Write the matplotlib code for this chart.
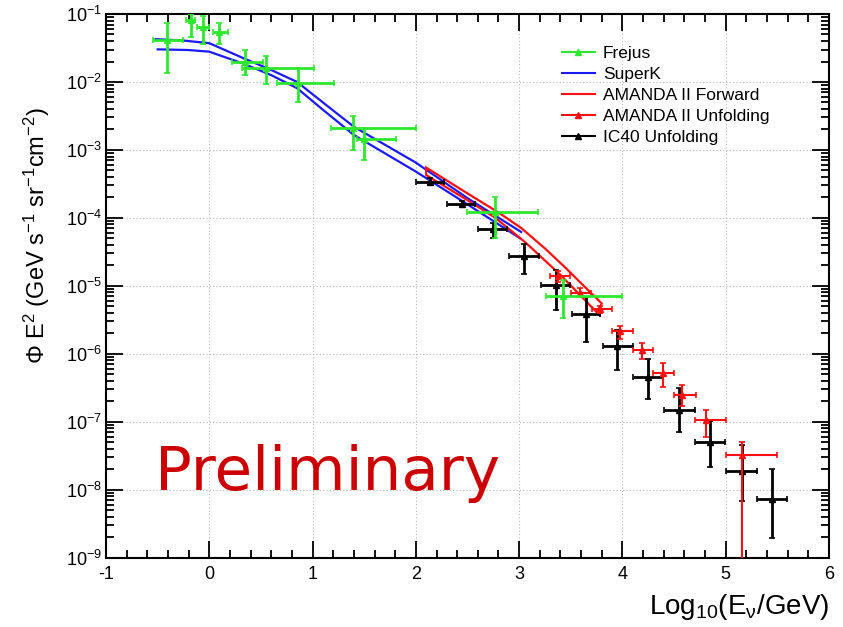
import numpy as np
import matplotlib
matplotlib.use('Agg')
import matplotlib.pyplot as plt
from matplotlib.lines import Line2D
from matplotlib.ticker import MultipleLocator, LogLocator, NullFormatter

plt.rcParams['font.family'] = ['Liberation Sans', 'DejaVu Sans']
plt.rcParams['mathtext.fontset'] = 'custom'
plt.rcParams['mathtext.rm'] = 'Liberation Sans'
plt.rcParams['mathtext.it'] = 'Liberation Sans:italic'
plt.rcParams['axes.unicode_minus'] = False

# Frejus points (log10 E, flux), with bin edges and error bounds
frejus_x = np.array([-0.41, -0.18, -0.06, 0.09, 0.35, 0.55, 0.86, 1.39, 1.50, 2.77, 3.42])
frejus_y = np.array([4.2e-2, 8.2e-2, 6.4e-2, 5.5e-2, 2.0e-2, 1.6e-2, 9.8e-3, 2.1e-3, 1.43e-3, 1.23e-4, 7.2e-6])
frejus_ylo = np.array([1.34e-2, 4.6e-2, 3.6e-2, 3.6e-2, 1.26e-2, 9.3e-3, 5.1e-3, 1.0e-3, 7.2e-4, 5.1e-5, 3.4e-6])
frejus_yhi = np.array([7.4e-2, 1.0e-1, 9.3e-2, 7.4e-2, 3.0e-2, 2.4e-2, 1.58e-2, 3.2e-3, 2.1e-3, 2.0e-4, 1.2e-5])
frejus_xlo = np.array([-0.545, -0.23, -0.12, 0.036, 0.22, 0.316, 0.655, 1.18, 1.43, 2.50, 3.26])
frejus_xhi = np.array([-0.25, -0.135, 0.0, 0.177, 0.52, 1.01, 1.21, 2.0, 1.81, 3.18, 4.0])

# IC40 unfolding
ic40_x = np.array([2.14, 2.45, 2.75, 3.05, 3.36, 3.65, 3.95, 4.25, 4.55, 4.845, 5.16, 5.45])
ic40_y = np.array([3.4e-4, 1.62e-4, 6.8e-5, 2.75e-5, 1.02e-5, 3.8e-6, 1.3e-6, 4.5e-7, 1.48e-7, 5.0e-8, 1.86e-8, 7.2e-9])
ic40_ylo = np.array([3.0e-4, 1.48e-4, 5.1e-5, 1.48e-5, 4.4e-6, 1.48e-6, 5.75e-7, 2.14e-7, 7.1e-8, 2.14e-8, 6.8e-9, 1.95e-9])
ic40_yhi = np.array([3.8e-4, 1.78e-4, 8.3e-5, 4.1e-5, 1.7e-5, 6.9e-6, 2.24e-6, 8.5e-7, 3.1e-7, 1.02e-7, 4.5e-8, 2.0e-8])
ic40_xlo = np.array([2.0, 2.3, 2.6, 2.9, 3.21, 3.51, 3.81, 4.10, 4.40, 4.70, 5.0, 5.30])
ic40_xhi = np.array([2.27, 2.57, 2.88, 3.19, 3.49, 3.78, 4.10, 4.39, 4.70, 4.99, 5.30, 5.59])

# AMANDA II unfolding
amu_x = np.array([3.38, 3.59, 3.78, 3.98, 4.19, 4.39, 4.58, 4.81, 5.155])
amu_y = np.array([1.38e-5, 7.9e-6, 4.5e-6, 2.2e-6, 1.12e-6, 5.2e-7, 2.5e-7, 1.08e-7, 3.2e-8])
amu_ylo = np.array([1.15e-5, 6.8e-6, 4.0e-6, 1.66e-6, 8.5e-7, 3.2e-7, 1.7e-7, 5.96e-8, 1e-12])
amu_yhi = np.array([1.66e-5, 9.3e-6, 5.0e-6, 2.6e-6, 1.45e-6, 7.3e-7, 3.5e-7, 1.5e-7, 5.0e-8])
amu_xlo = np.array([3.30, 3.50, 3.71, 3.895, 4.10, 4.30, 4.50, 4.70, 5.0])
amu_xhi = np.array([3.49, 3.70, 3.90, 4.10, 4.30, 4.50, 4.71, 5.0, 5.50])

# SuperK band edges
sk_up_x = [-0.52, -0.25, 0.0, 0.33, 0.6, 0.85, 1.1, 1.4, 2.0, 2.5, 3.02]
sk_up_y = [0.0427, 0.0407, 0.0372, 0.0224, 0.0150, 0.0100, 5.0e-3, 2.19e-3, 6.5e-4, 1.95e-4, 6.2e-5]
sk_lo_x = [-0.5, -0.2, 0.0, 0.33, 0.6, 0.85, 1.1, 1.4, 2.0, 2.5, 3.01]
sk_lo_y = [0.0302, 0.0295, 0.0279, 0.0186, 0.0126, 8.1e-3, 3.9e-3, 1.66e-3, 4.8e-4, 1.58e-4, 5.0e-5]

# AMANDA II forward folding band (closed outline)
amf_up_x = [2.10, 2.5, 2.8, 3.02, 3.25, 3.44, 3.62, 3.80]
amf_up_y = [5.5e-4, 2.29e-4, 1.2e-4, 7.1e-5, 3.55e-5, 1.9e-5, 1.02e-5, 5.5e-6]
amf_lo_x = [2.10, 2.5, 2.77, 3.06, 3.4, 3.75]
amf_lo_y = [4.27e-4, 1.82e-4, 1.0e-4, 4.37e-5, 1.45e-5, 4.1e-6]

green = '#2ee82e'
blue = '#1a1aff'
red = '#ff1010'

fig = plt.figure(figsize=(8.43, 6.27), dpi=100)
ax = fig.add_axes([106/843, 1 - 557.7/627, (829 - 106)/843, (557.7 - 14)/627])
ax.set_yscale('log')
ax.set_xlim(-1, 6)
ax.set_ylim(1e-9, 1e-1)

ax.grid(True, which='major', color='#b8b8b8', linestyle=(0, (1, 2)), linewidth=0.8)

# bands
ax.plot(sk_up_x, sk_up_y, color=blue, lw=1.6, zorder=2)
ax.plot(sk_lo_x, sk_lo_y, color=blue, lw=1.6, zorder=2)
ax.fill(amf_up_x + amf_lo_x[::-1], amf_up_y + amf_lo_y[::-1], facecolor='none',
        edgecolor=red, lw=1.6, zorder=2)

ax.errorbar(ic40_x, ic40_y, xerr=[ic40_x - ic40_xlo, ic40_xhi - ic40_x],
            yerr=[ic40_y - ic40_ylo, ic40_yhi - ic40_y], fmt='^', color='black',
            ms=5, elinewidth=2, capsize=2, capthick=1.2, zorder=3)
ax.errorbar(amu_x, amu_y, xerr=[amu_x - amu_xlo, amu_xhi - amu_x],
            yerr=[amu_y - amu_ylo, amu_yhi - amu_y], fmt='^', color=red,
            ms=5, elinewidth=1.5, capsize=2, capthick=1.2, zorder=4)
ax.errorbar(frejus_x, frejus_y, xerr=[frejus_x - frejus_xlo, frejus_xhi - frejus_x],
            yerr=[frejus_y - frejus_ylo, frejus_yhi - frejus_y], fmt='^', color=green,
            ms=4, elinewidth=2, capsize=2, capthick=1.2, zorder=5)

# ticks, ROOT style
ax.xaxis.set_major_locator(MultipleLocator(1))
ax.xaxis.set_minor_locator(MultipleLocator(0.2))
ax.yaxis.set_major_locator(LogLocator(base=10, numticks=20))
ax.yaxis.set_minor_locator(LogLocator(base=10, subs=np.arange(2, 10), numticks=100))
ax.yaxis.set_minor_formatter(NullFormatter())
ax.tick_params(which='both', direction='in', top=True, right=True, width=1.3, labelsize=13)
ax.tick_params(which='major', length=12)
ax.tick_params(which='minor', length=6)
ax.tick_params(axis='x', pad=6)
ax.tick_params(axis='y', pad=3)
for s in ax.spines.values():
    s.set_linewidth(1.5)

fig.text(829/843, 1 - 614/627, 'Log$_{10}$(E$_{\\mathrm{ν}}$/GeV)', ha='right', va='baseline', fontsize=20)
fig.text(37/843, 1 - 236/627, r'$\Phi$ E$^{2}$ (GeV s$^{-1}$ sr$^{-1}$cm$^{-2}$)',
         rotation=90, ha='center', va='center', fontsize=17)

ax.text(-0.53, 1e-8, 'Preliminary', color='#cc0000', fontsize=44,
        family='DejaVu Sans', ha='left', va='baseline', zorder=6)

handles = [
    Line2D([], [], color=green, marker='^', ms=5, lw=1.5),
    Line2D([], [], color=blue, lw=1.5),
    Line2D([], [], color=red, lw=1.5),
    Line2D([], [], color=red, marker='^', ms=5, lw=1.5),
    Line2D([], [], color='black', marker='^', ms=5, lw=1.5),
]
labels = ['Frejus', 'SuperK', 'AMANDA II Forward', 'AMANDA II Unfolding', 'IC40 Unfolding']
leg = fig.legend(handles, labels, loc='upper left', bbox_to_anchor=(562/843, 1 - 46/627),
                 frameon=False, fontsize=12.5, handlelength=1.9, handletextpad=0.46,
                 borderpad=0, borderaxespad=0, labelspacing=0.34)

fig.savefig('out.png', dpi=100)
